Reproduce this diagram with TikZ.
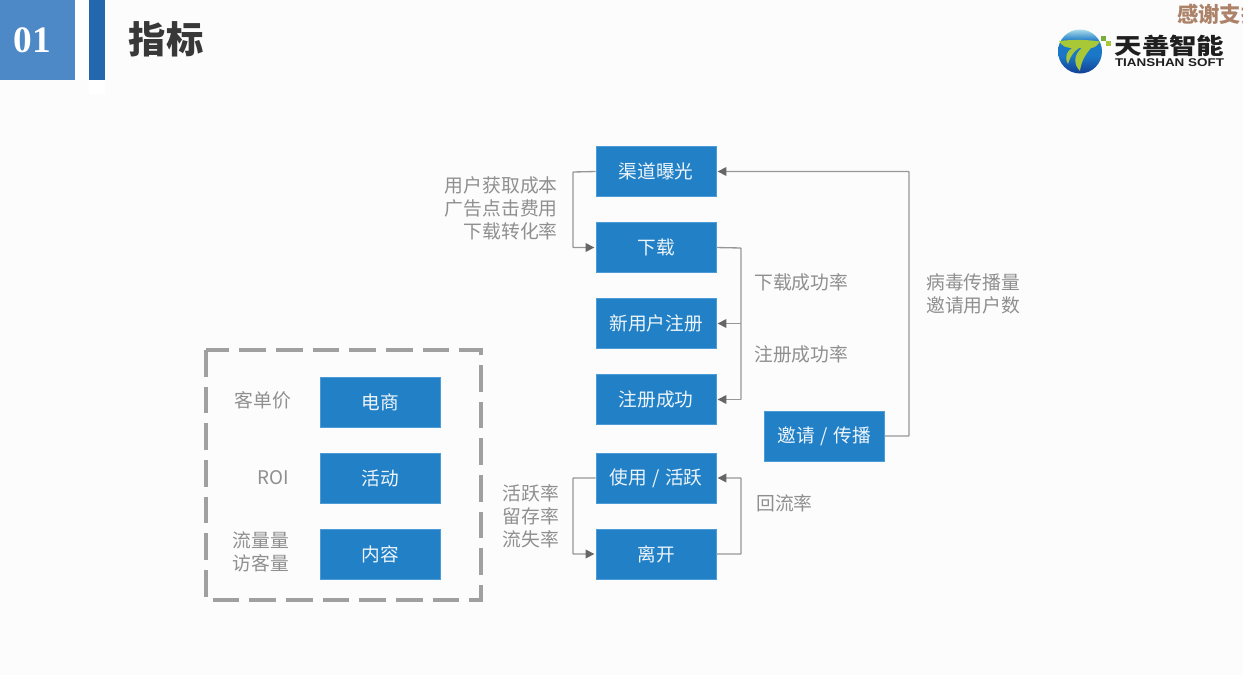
\documentclass[tikz,border=0pt]{standalone}
\usepackage{fontspec}
\setmainfont{Noto Sans CJK SC}
\newfontfamily\latinserif{Liberation Serif}
\newfontfamily\logolatin{Liberation Sans}
\usetikzlibrary{arrows.meta}
\definecolor{boxblue}{HTML}{2280C6}
\definecolor{boxedge}{HTML}{4C9AD6}
\definecolor{linegray}{HTML}{979797}
\definecolor{tipgray}{HTML}{666666}
\definecolor{labelgray}{HTML}{8F8F8F}
\definecolor{pagebg}{HTML}{FCFCFC}
\definecolor{globetop}{HTML}{A8DCE8}
\definecolor{globemid}{HTML}{1B78C6}
\definecolor{globelow}{HTML}{123F96}
\definecolor{swoosh}{HTML}{A8C838}
\pgfdeclareverticalshading{globeshade}{100bp}{
  color(0bp)=(globelow); color(25bp)=(globelow); color(45bp)=(globemid);
  color(62bp)=(globemid); color(75bp)=(globetop); color(100bp)=(globetop)}
\newcommand{\wideslash}{\kern1.1pt/\kern1.1pt}
\tikzset{
  px/.style={x=0.75pt,y=-0.75pt},
  stage/.style={draw=boxedge,line width=0.5pt,fill=boxblue,text=white!92!boxblue,
    minimum width=90pt,minimum height=37.5pt,inner sep=0pt,font=\fontsize{14}{16}\selectfont},
  tag/.style={text=labelgray,inner sep=0pt,align=right,
    font=\fontsize{14.1}{17.2}\selectfont},
  taglead/.style={tag,align=left},
  link/.style={draw=linegray,line width=1pt,rounded corners=0.5pt},
  flow/.style={link,-{Triangle[length=6.5pt,width=6.5pt,color=tipgray]},shorten >=1pt},
}
\begin{document}
\begin{tikzpicture}[px]
\useasboundingbox (0,0) rectangle (1243,675);
\fill[pagebg] (0,0) rectangle (1243,675);

% Section header
\fill[white] (75,0) rectangle (89,80);
\fill[white] (89,80) rectangle (105,94);
\fill[color={rgb,255:red,76;green,137;blue,198}] (0,0) rectangle (74.5,79.5);
\fill[color={rgb,255:red,35;green,103;blue,174}] (89,0) rectangle (105,79.5);
\node[text=white,inner sep=0pt,font=\latinserif\bfseries\fontsize{28}{30}\selectfont] (secno) at (32.5,40) {01};
\node[text=black!78,inner sep=0pt,anchor=west,font=\bfseries\fontsize{28}{30}\selectfont] (sectitle) at (128.5,39) {指标};

% Corner banner, running off the right edge
\begin{scope}
\clip (0,0) rectangle (1243,675);
\node[anchor=west,inner sep=0pt,text={rgb,255:red,172;green,130;blue,104},font=\bfseries\fontsize{16}{18}\selectfont] (banner) at (1177,14) {感谢支持};
\end{scope}

% Company mark: globe with a stylised T
\shade[shading=globeshade] (1080,51.5) circle (22);
\fill[swoosh]
  (1059,41) .. controls (1072,39.5) and (1088,39.5) .. (1100,41.5)
  .. controls (1097,46) and (1095,47.5) .. (1091,48)
  .. controls (1085,55) and (1081,62) .. (1080,71)
  .. controls (1073,64) and (1074,54) .. (1082,48)
  -- (1079,48)
  .. controls (1073,52) and (1070,57) .. (1068,64)
  .. controls (1064,57) and (1067,51) .. (1072,48)
  .. controls (1066,48) and (1062,46) .. (1059,41) -- cycle;
\fill[color={rgb,255:red,120;green,175;blue,60}] (1101,36) rectangle ++(4.5,4.5);
\fill[swoosh] (1106,41) rectangle ++(4.5,4.5);
\node[text=black!88,inner sep=0pt,yscale=.82,font=\bfseries\fontsize{20.6}{22}\selectfont] (logocn) at (1169.5,45.5) {天善智能};
\node[text=black!88,inner sep=0pt,xscale=1.2,font=\logolatin\bfseries\fontsize{8.4}{10}\selectfont] (logoen) at (1169.5,62.5) {TIANSHAN SOFT};

% Funnel stages
\node[stage] (expose)   at (656,171.5) {渠道曝光};
\node[stage] (download) at (656,247.5) {下载};
\node[stage] (signup)   at (656,323.5) {新用户注册};
\node[stage] (signed)   at (656,399.5) {注册成功};
\node[stage] (active)   at (656,478)   {使用 \wideslash{} 活跃};
\node[stage] (leave)    at (656,554)   {离开};
\node[stage] (invite)   at (824.5,436) {邀请 \wideslash{} 传播};

% Business types
\node[stage] (shop)    at (380.5,402) {电商};
\node[stage] (event)   at (380.5,478) {活动};
\node[stage] (content) at (380.5,554) {内容};
\draw[color={rgb,255:red,160;green,160;blue,160},line width=2.3pt,dash pattern=on 20pt off 7.5pt]
  (206,350) rectangle (481,600);

% Connectors
\coordinate (leftbus1) at (573,172);
\coordinate (leftbus2) at (573,478);
\coordinate (rightbus1) at (741,248);
\coordinate (rightbus2) at (741,554);
\coordinate (outerbus) at (909,436);
\draw[flow] (expose.west) -- (leftbus1) |- (download.west);
\draw[link] (download.east) -- (rightbus1) -- (rightbus1 |- signed.east);
\draw[flow] (rightbus1 |- signup.east) -- (signup.east);
\draw[flow] (rightbus1 |- signed.east) -- (signed.east);
\draw[flow] (active.west) -- (leftbus2) |- (leave.west);
\draw[flow] (leave.east) -- (rightbus2) |- (active.east);
\draw[flow] (invite.east) -- (outerbus) |- (expose.east);

% Metric labels
\node[tag,anchor=east] (costs) at (558,208.5) {用户获取成本\\广告点击费用\\下载转化率};
\node[tag,anchor=west] (dlrate) at (754,282) {下载成功率};
\node[tag,anchor=west] (regrate) at (754,354) {注册成功率};
\node[taglead,anchor=west] (spread) at (926,293.5) {病毒传播量\\邀请用户数};
\node[tag,anchor=east] (retain) at (559.5,516) {活跃率\\留存率\\流失率};
\node[tag,anchor=west] (backflow) at (756,503.5) {回流率};
\node[tag,anchor=east] (aov) at (291.5,400) {客单价};
\node[tag,anchor=east] (roi) at (289.5,477.5) {ROI};
\node[tag,anchor=east] (traffic) at (289.5,552) {流量量\\访客量};
\end{tikzpicture}
\end{document}
